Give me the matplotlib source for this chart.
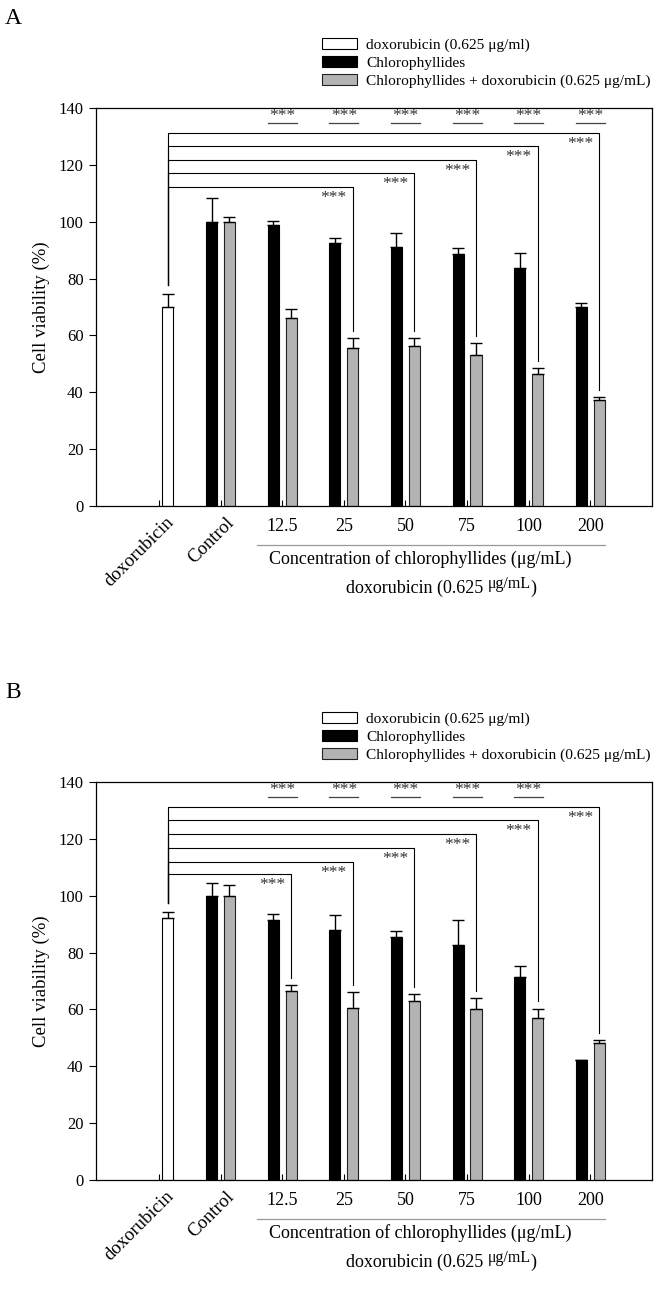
import numpy as np
import matplotlib
matplotlib.use('Agg')
from matplotlib import pyplot as plt

plt.rcParams['font.family'] = ['Liberation Serif', 'DejaVu Serif']
plt.rcParams['font.size'] = 11

groups = ['doxorubicin', 'Control', '12.5', '25', '50', '75', '100', '200']
legend_labels = ['doxorubicin (0.625 \u03bcg/ml)', 'Chlorophyllides',
                 'Chlorophyllides + doxorubicin (0.625 \u03bcg/mL)']

# panel A
dox_A = 70.1
dox_err_A = 4.5
chl_A = [100.0, 98.8, 92.6, 91.0, 88.8, 83.6, 70.1]
chl_err_A = [8.3, 1.5, 1.8, 5.0, 1.8, 5.3, 1.2]
comb_A = [100.0, 66.0, 55.6, 56.2, 53.0, 46.5, 37.2]
comb_err_A = [1.5, 3.2, 3.5, 3.0, 4.4, 2.1, 1.0]
brk_groups_A = ['25', '50', '75', '100', '200']
brk_heights_A = [112.2, 117.1, 121.8, 126.8, 131.3]
top_star_groups_A = ['12.5', '25', '50', '75', '100', '200']

# panel B
dox_B = 92.2
dox_err_B = 2.2
chl_B = [100.0, 91.6, 88.1, 85.5, 82.8, 71.4, 42.3]
chl_err_B = [4.4, 2.1, 5.1, 2.2, 8.5, 4.0, 0.0]
comb_B = [100.0, 66.5, 60.6, 63.0, 60.3, 57.0, 48.3]
comb_err_B = [3.6, 2.1, 5.6, 2.5, 3.8, 3.3, 0.8]
brk_groups_B = ['12.5', '25', '50', '75', '100', '200']
brk_heights_B = [107.7, 112.0, 116.9, 121.6, 126.5, 131.2]
top_star_groups_B = ['12.5', '25', '50', '75', '100']

W, H = 657, 1302
fig = plt.figure(figsize=(W / 100, H / 100), dpi=100)

bw = 0.18
off = 0.145
gray = '#b3b3b3'


def panel(top_px, letter, dox, dox_err, chl, chl_err, comb, comb_err,
          brk_groups, brk_heights, star_groups):
    left, right, bottom = 96, 652, top_px + 398
    ax = fig.add_axes([left / W, 1 - bottom / H, (right - left) / W, 398 / H])
    x = np.arange(len(groups))
    xr = x[1:]
    ek = dict(elinewidth=1, capthick=1, ecolor='black')
    b0 = ax.bar([x[0] + off], [dox], bw, color='white', edgecolor='black', lw=0.8,
                yerr=[[0], [dox_err]], capsize=4, error_kw=ek)
    b1 = ax.bar(xr - off, chl, bw, color='black', edgecolor='black', lw=0.8,
                yerr=[np.zeros(len(chl)), chl_err], capsize=4, error_kw=ek)
    b2 = ax.bar(xr + off, comb, bw, color=gray, edgecolor='#222222', lw=0.8,
                yerr=[np.zeros(len(comb)), comb_err], capsize=4, error_kw=ek)

    ax.set_xlim(-1.02, 8.0)
    ax.set_ylim(0, 140)
    ax.set_yticks(range(0, 141, 20))
    ax.tick_params(axis='y', direction='out', length=5, width=0.8, labelsize=12, pad=4)
    ax.set_xticks(x)
    ax.set_xticklabels([])
    ax.tick_params(axis='x', direction='in', length=4, width=0.8)
    for s in ax.spines.values():
        s.set_linewidth(0.9)
    ax.set_ylabel('Cell viability (%)', labelpad=6, fontsize=13.5)

    # brackets from doxorubicin bar
    start = dox + dox_err + 3
    for g, h in zip(brk_groups, brk_heights):
        i = groups.index(g)
        xe = x[i] + off
        end = comb[i - 1] + comb_err[i - 1] + 2.5
        ax.plot([x[0] + off, x[0] + off, xe, xe], [start, h, h, end],
                color='black', lw=0.8)
        ax.annotate('***', (xe, h), xytext=(-6, -3), textcoords='offset pixels',
                    ha='right', va='top', fontsize=12.5, color='#333333')
    for g in star_groups:
        i = groups.index(g)
        ax.plot([x[i] - 0.235, x[i] + 0.235], [134.8, 134.8], color='#444444', lw=0.9)
        ax.annotate('***', (x[i], 134.8), xytext=(0, -1), textcoords='offset pixels',
                    ha='center', va='bottom', fontsize=12.5, color='#333333')

    # x labels
    tr = ('data', 'axes fraction')
    rot_dx = [6, 5]
    for i, g in enumerate(groups):
        if i < 2:
            ax.annotate(g, (x[i], 0), xycoords=tr, xytext=(rot_dx[i], -8),
                        textcoords='offset pixels', rotation=45,
                        rotation_mode='anchor', ha='right', va='top', fontsize=13.5)
        else:
            ax.annotate(g, (x[i], 0), xycoords=tr, xytext=(0, -12),
                        textcoords='offset pixels', ha='center', va='top', fontsize=13)
    ax.plot([1.6, 7.23], [-39 / 398, -39 / 398], transform=ax.get_xaxis_transform(),
            color='#999999', lw=0.9, clip_on=False)
    fig.text(269 / W, 1 - (bottom + 53) / H, 'Concentration of chlorophyllides (\u03bcg/mL)',
             ha='left', va='center', fontsize=13)
    t1 = fig.text(346 / W, 1 - (bottom + 82) / H, 'doxorubicin (0.625 ',
                  ha='left', va='center', fontsize=13)
    fig.canvas.draw()
    r = fig.canvas.get_renderer()
    e1 = t1.get_window_extent(r)
    t2 = fig.text(e1.x1 / W, 1 - (bottom + 78) / H, '\u03bcg/mL',
                  ha='left', va='center', fontsize=11.5)
    e2 = t2.get_window_extent(r)
    fig.text(e2.x1 / W, 1 - (bottom + 82) / H, ')', ha='left', va='center', fontsize=13)

    # legend
    ax.legend([b0, b1, b2], legend_labels, loc='upper left',
              bbox_to_anchor=(322 / W, 1 - (top_px - 70) / H),
              bbox_transform=fig.transFigure, frameon=False, borderpad=0,
              borderaxespad=0, handlelength=2.3, handleheight=0.75,
              labelspacing=0.24, handletextpad=0.55, fontsize=11.1)
    fig.text(5 / W, 1 - (top_px - 89) / H, letter, fontsize=17, ha='left', va='center')
    return ax


panel(108, 'A', dox_A, dox_err_A, chl_A, chl_err_A, comb_A, comb_err_A,
      brk_groups_A, brk_heights_A, top_star_groups_A)
panel(782, 'B', dox_B, dox_err_B, chl_B, chl_err_B, comb_B, comb_err_B,
      brk_groups_B, brk_heights_B, top_star_groups_B)

fig.savefig('out.png', dpi=100)
